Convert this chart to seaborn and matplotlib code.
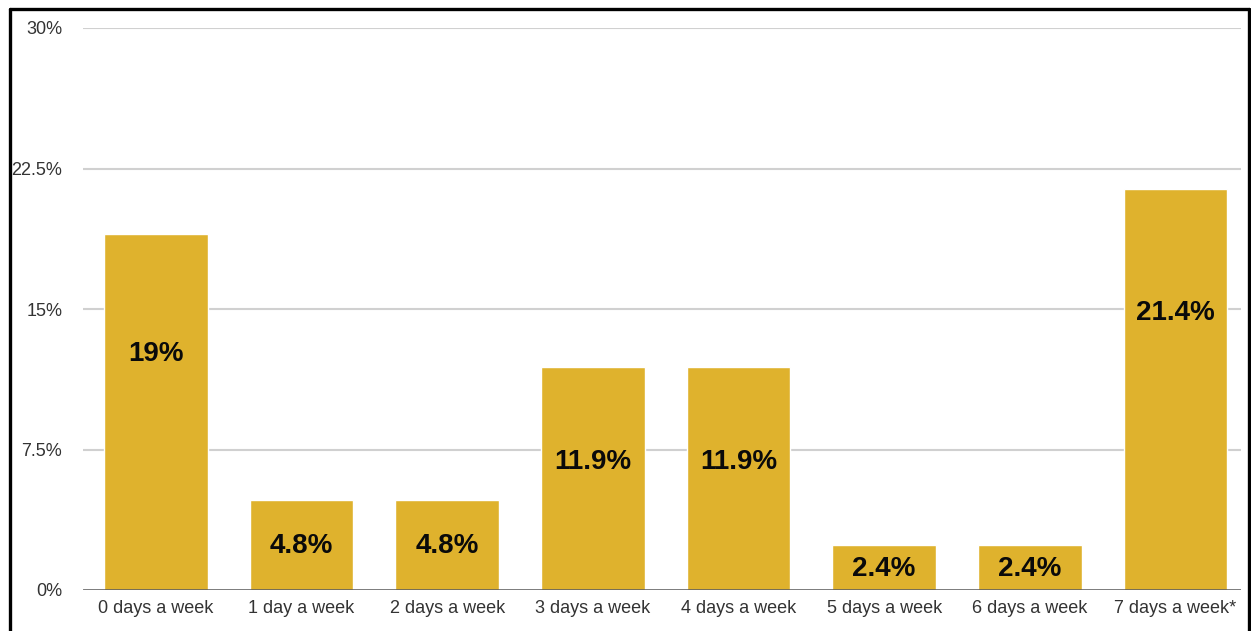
import numpy as np
import pandas as pd
import seaborn as sns
import matplotlib.pyplot as plt
from matplotlib.lines import Line2D

categories = ['0 days a week', '1 day a week', '2 days a week', '3 days a week',
              '4 days a week', '5 days a week', '6 days a week', '7 days a week*']
percent = [19.0, 4.8, 4.8, 11.9, 11.9, 2.4, 2.4, 21.4]
bar_labels = ['19%', '4.8%', '4.8%', '11.9%', '11.9%', '2.4%', '2.4%', '21.4%']
y_ticks = [0, 7.5, 15, 22.5, 30]
y_tick_labels = ['0%', '7.5%', '15%', '22.5%', '30%']

df = pd.DataFrame({'days': categories, 'pct': percent})

sns.set_style('white')
plt.rcParams['font.family'] = ['Liberation Sans', 'DejaVu Sans']

fig = plt.figure(figsize=(12.51, 6.31), dpi=100)
ax = fig.add_axes([83 / 1251, 1 - 590 / 631, (1241 - 83) / 1251, (590 - 28) / 631])

sns.barplot(data=df, x='days', y='pct', color='#dfb22d', saturation=1,
            width=0.71, ax=ax, zorder=3)

# inside labels sit lower in taller bars
for i, (v, lab) in enumerate(zip(percent, bar_labels)):
    ly = 0.0122 * v ** 2 + 0.43 * v
    ax.text(i, ly, lab, ha='center', va='center', fontsize=20,
            fontweight='bold', color='#0a0a0a', zorder=4)

ax.set_ylim(0, 30)
ax.set_xlim(-0.5, 7.45)
ax.set_yticks(y_ticks)
ax.set_yticklabels(y_tick_labels)
for y in y_ticks[1:]:
    ax.axhline(y, color='#d0d0d0', lw=1.5, zorder=1)
ax.axhline(0, color='#555555', lw=1.8, zorder=5)

for s in ax.spines.values():
    s.set_visible(False)
ax.tick_params(axis='both', length=0, labelsize=13, colors='#333333')
ax.tick_params(axis='y', pad=15)
ax.tick_params(axis='x', pad=7)
ax.set_xlabel('')
ax.set_ylabel('')

# black frame around the chart (bottom edge falls outside the image)
fx = lambda px: px / 1251
fy = lambda py: 1 - py / 631
for xs, ys in [([fx(9.5), fx(9.5)], [fy(8.5), fy(640)]),
               ([fx(9.5), fx(1248.5)], [fy(8.5), fy(8.5)]),
               ([fx(1248.5), fx(1248.5)], [fy(8.5), fy(640)])]:
    fig.add_artist(Line2D(xs, ys, color='black', lw=2.4, transform=fig.transFigure))

fig.savefig('out.png', dpi=100)
